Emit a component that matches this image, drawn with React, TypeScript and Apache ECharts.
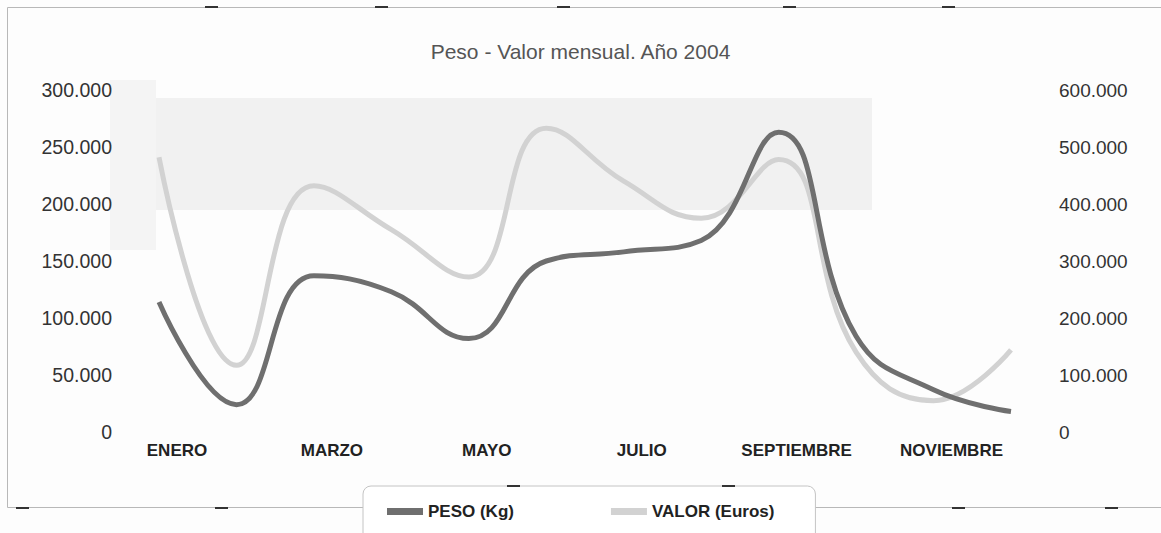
import React, { useEffect, useRef } from 'react';
import * as echarts from 'echarts';

const months = ['ENERO', 'FEBRERO', 'MARZO', 'ABRIL', 'MAYO', 'JUNIO', 'JULIO', 'AGOSTO', 'SEPTIEMBRE', 'OCTUBRE', 'NOVIEMBRE', 'DICIEMBRE'];
const pesoKg = [114000, 24000, 137000, 123000, 82000, 150000, 158000, 168000, 263000, 84000, 37000, 18000];
const valorEuros = [482000, 117000, 432000, 355000, 272000, 533000, 440000, 375000, 478000, 140000, 55000, 144000];
const leftAxisRange = [0, 300000, 50000];
const rightAxisRange = [0, 600000, 100000];
const seriesNames = ['PESO (Kg)', 'VALOR (Euros)'];
const titleText = 'Peso - Valor mensual. Año 2004';

const FONT = '"Liberation Sans", Arial, sans-serif';
const fmt = (v: number) => String(v).replace(/\B(?=(\d{3})+(?!\d))/g, '.');

const cropMarks = [
  [205, 6], [375, 6], [557, 6], [783, 6], [942, 6],
  [16, 507], [215, 507], [507, 485], [722, 485], [952, 507], [1105, 507],
];

export default function App() {
  const ref = useRef<HTMLDivElement>(null);
  useEffect(() => {
    document.body.style.margin = '0';
    const chart = echarts.init(ref.current!, null, { renderer: 'svg' });
    chart.setOption({
      animation: false,
      backgroundColor: '#fdfdfd',
      title: {
        text: titleText,
        left: 'center',
        top: 36,
        textStyle: { fontFamily: FONT, fontSize: 21, fontWeight: 'normal', color: '#555' },
      },
      graphic: [
        { type: 'rect', z: -10, shape: { x: 112, y: 98, width: 760, height: 112 }, style: { fill: '#f1f1f1' } },
        { type: 'rect', z: -10, shape: { x: 110, y: 80, width: 46, height: 170 }, style: { fill: '#f4f4f4' } },
        { type: 'rect', z: -5, shape: { x: 7.5, y: 7.5, width: 1200, height: 500 }, style: { fill: 'none', stroke: '#b8b8b8', lineWidth: 1 } },
        ...cropMarks.map(([x, y]) => ({
          type: 'rect', z: 10, shape: { x, y, width: 13, height: 2 }, style: { fill: '#333' },
        })),
      ],
      legend: {
        left: 363,
        top: 486,
        icon: 'rect',
        itemWidth: 36,
        itemHeight: 7,
        itemGap: 97,
        padding: [17, 41, 22, 24],
        backgroundColor: '#fff',
        borderColor: '#c4c4c4',
        borderWidth: 1,
        borderRadius: 8,
        textStyle: { fontFamily: FONT, fontSize: 17, fontWeight: 'bold', color: '#222' },
        data: seriesNames,
      },
      grid: { left: 159, right: 150, top: 90, bottom: 101 },
      xAxis: {
        type: 'category',
        data: months,
        boundaryGap: false,
        axisLine: { show: false },
        axisTick: { show: false },
        axisLabel: {
          interval: 1,
          margin: 10,
          padding: [0, 0, 0, 36],
          fontFamily: FONT,
          fontSize: 17,
          fontWeight: 'bold',
          color: '#222',
        },
      },
      yAxis: [
        {
          type: 'value',
          min: leftAxisRange[0],
          max: leftAxisRange[1],
          interval: leftAxisRange[2],
          splitLine: { show: false },
          axisLine: { show: false },
          axisTick: { show: false },
          axisLabel: { margin: 47, formatter: fmt, fontFamily: FONT, fontSize: 19.5, color: '#333' },
        },
        {
          type: 'value',
          min: rightAxisRange[0],
          max: rightAxisRange[1],
          interval: rightAxisRange[2],
          splitLine: { show: false },
          axisLine: { show: false },
          axisTick: { show: false },
          axisLabel: { margin: 48, formatter: fmt, fontFamily: FONT, fontSize: 19, color: '#333' },
        },
      ],
      series: [
        {
          name: seriesNames[1],
          type: 'line',
          yAxisIndex: 1,
          data: valorEuros,
          smooth: 0.45,
          symbol: 'none',
          color: '#d2d2d2',
          lineStyle: { width: 5, color: '#d2d2d2' },
        },
        {
          name: seriesNames[0],
          type: 'line',
          yAxisIndex: 0,
          data: pesoKg,
          smooth: 0.45,
          symbol: 'none',
          color: '#6f6f6f',
          lineStyle: { width: 5, color: '#6f6f6f' },
        },
      ],
    });
    return () => chart.dispose();
  }, []);
  return <div ref={ref} style={{ width: 1161, height: 533 }} />;
}
